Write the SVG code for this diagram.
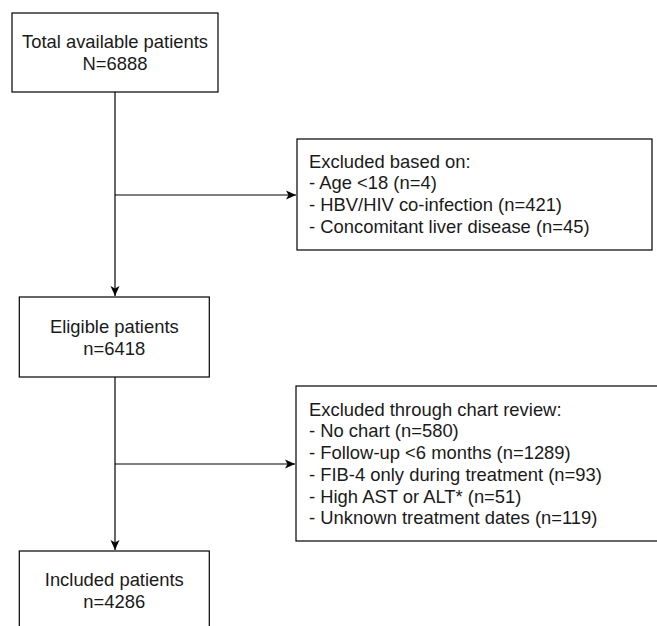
<svg xmlns="http://www.w3.org/2000/svg" width="657" height="626" viewBox="0 0 657 626">
<style>
.box{fill:#fff;stroke:#000;stroke-width:1.2}
.t{font-family:"Liberation Sans",Arial,sans-serif;font-size:18.4px;fill:#1a1a1a}
.c{text-anchor:middle}
.edge{fill:none;stroke:#000;stroke-width:1.2}
</style>
<defs>
<marker id="arr" markerUnits="userSpaceOnUse" markerWidth="12" markerHeight="12" viewBox="0 0 12 12" refX="11" refY="6" orient="auto">
<path d="M1,1.5 L11,6 L1,10.5 L3.5,6 Z" fill="#000"/>
</marker>
</defs>
<rect width="657" height="626" fill="#fff"/>
<g id="connectors">
<path class="edge" d="M115,92 V296" marker-end="url(#arr)"/>
<path class="edge" d="M115,195 H296" marker-end="url(#arr)"/>
<path class="edge" d="M115,377 V550" marker-end="url(#arr)"/>
<path class="edge" d="M115,464 H295" marker-end="url(#arr)"/>
</g>
<g id="total">
<rect class="box" x="12" y="13" width="206" height="79"/>
<text class="t c" x="115" y="48">Total available patients</text>
<text class="t c" x="115" y="70">N=6888</text>
</g>
<g id="excluded1">
<rect class="box" x="297" y="139" width="355" height="111"/>
<text class="t" x="309" y="167.5">Excluded based on:</text>
<text class="t" x="309" y="189.2">- Age &lt;18 (n=4)</text>
<text class="t" x="309" y="210.9">- HBV/HIV co-infection (n=421)</text>
<text class="t" x="309" y="232.6">- Concomitant liver disease (n=45)</text>
</g>
<g id="eligible">
<rect class="box" x="19.3" y="297" width="190" height="80"/>
<text class="t c" x="114.3" y="333">Eligible patients</text>
<text class="t c" x="114.3" y="355">n=6418</text>
</g>
<g id="excluded2">
<rect class="box" x="296" y="386" width="380" height="155"/>
<text class="t" x="309" y="415.7">Excluded through chart review:</text>
<text class="t" x="309" y="437.4">- No chart (n=580)</text>
<text class="t" x="309" y="459.1">- Follow-up &lt;6 months (n=1289)</text>
<text class="t" x="309" y="480.8">- FIB-4 only during treatment (n=93)</text>
<text class="t" x="309" y="502.5">- High AST or ALT* (n=51)</text>
<text class="t" x="309" y="524.2">- Unknown treatment dates (n=119)</text>
</g>
<g id="included">
<rect class="box" x="19.3" y="551" width="190" height="90"/>
<text class="t c" x="114.3" y="586">Included patients</text>
<text class="t c" x="114.3" y="607.7">n=4286</text>
</g>
</svg>
